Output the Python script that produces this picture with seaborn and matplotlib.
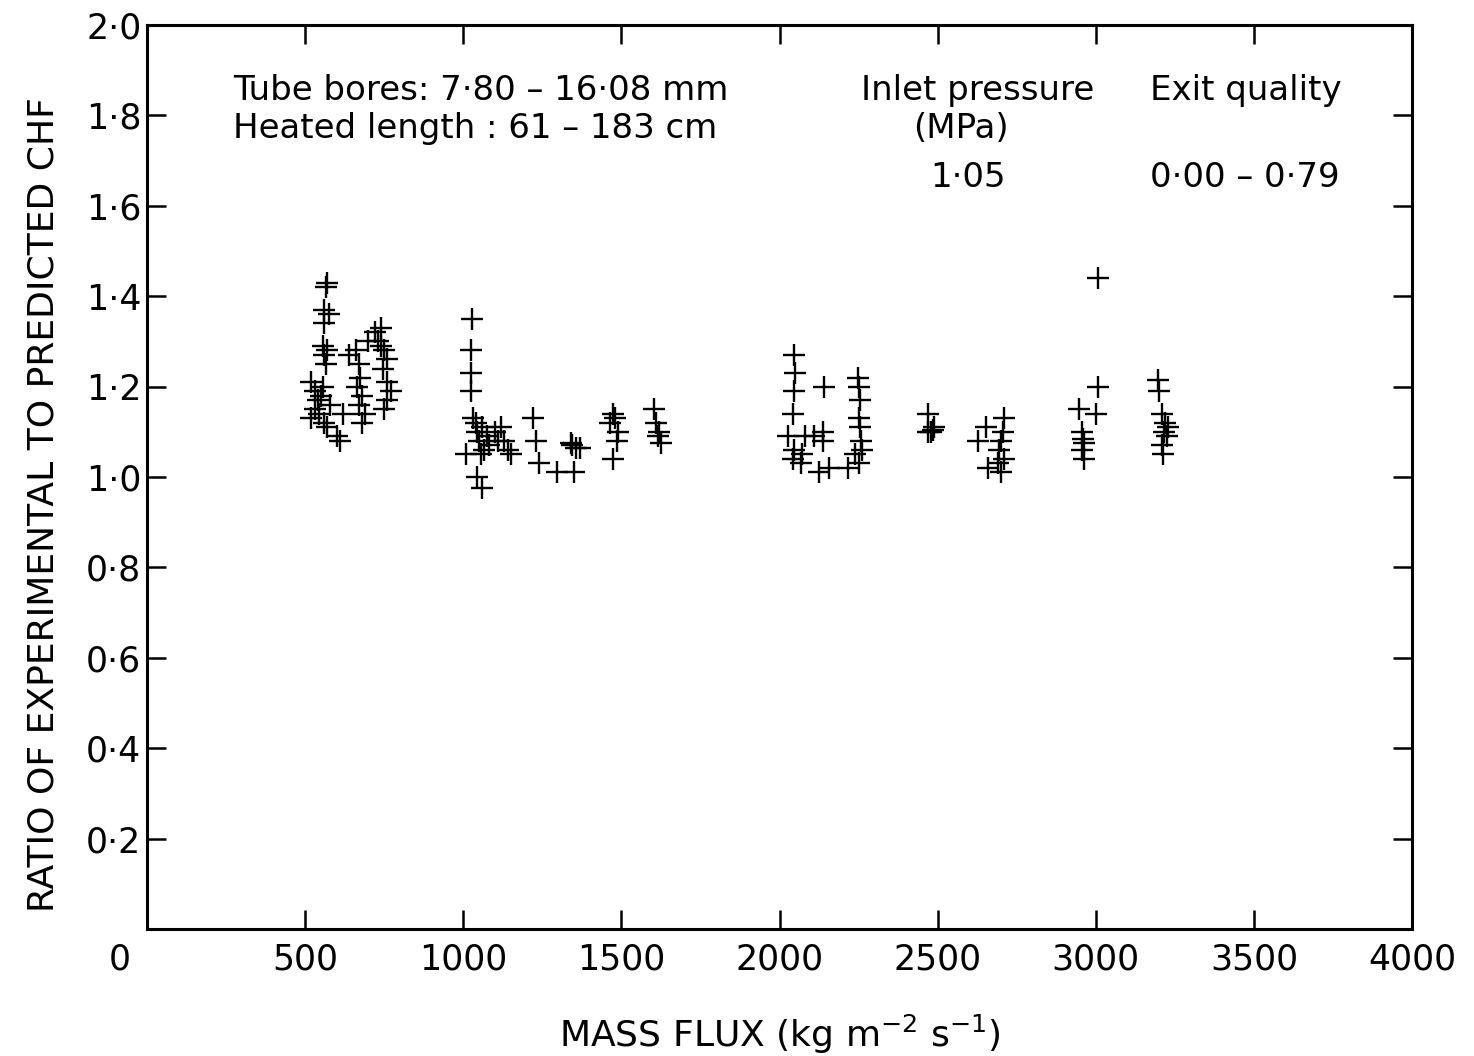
import matplotlib
matplotlib.use("Agg")
import matplotlib.pyplot as plt
import matplotlib.transforms as mtransforms
import seaborn as sns
import pandas as pd

# ---- data ----
mass_flux = [
    520, 530, 540, 530, 545, 520, 560, 570, 580, 550, 555, 565, 560, 555, 570, 560, 575, 560, 565, 570,
    600, 610, 620, 640, 660, 670, 675, 665, 680, 670, 690, 680, 700, 720, 740, 730, 750, 760, 745, 760,
    770, 760, 750, 740,
    1029, 1026, 1026, 1026, 1030, 1010, 1040, 1045, 1050, 1060, 1065, 1055, 1075, 1080, 1100, 1110, 1120,
    1130, 1140, 1150, 1045, 1060, 1222, 1230, 1238, 1298, 1349, 1345, 1355, 1370, 1340,
    1473, 1480, 1465, 1490, 1485, 1475, 1603, 1610, 1620, 1615, 1625,
    2046, 2050, 2046, 2043, 2141, 2027, 2046, 2043, 2068, 2109, 2137, 2137, 2125, 2156, 2080, 2070,
    2248, 2252, 2255, 2250, 2255, 2258, 2260, 2250, 2216, 2240,
    3008, 2470, 2479, 2490, 2470, 2485, 2628, 2653, 2711, 2707, 2700, 2695, 2711, 2660, 2701, 2690,
    3008, 3002, 2948, 2955, 2960, 2962, 2958, 2964,
    3198, 3201, 3208, 3220, 3215, 3225, 3210, 3212, 3230,
]
chf_ratio = [
    1.21, 1.19, 1.17, 1.15, 1.14, 1.13, 1.12, 1.11, 1.16, 1.18, 1.20, 1.25, 1.27, 1.29, 1.28, 1.34, 1.36, 1.37, 1.42, 1.43,
    1.09, 1.08, 1.14, 1.27, 1.28, 1.25, 1.22, 1.20, 1.18, 1.16, 1.14, 1.12, 1.30, 1.32, 1.33, 1.30, 1.28, 1.26, 1.24, 1.21,
    1.19, 1.17, 1.15, 1.29,
    1.35, 1.28, 1.23, 1.19, 1.13, 1.05, 1.12, 1.10, 1.08, 1.11, 1.06, 1.05, 1.09, 1.07, 1.10, 1.08, 1.11,
    1.08, 1.06, 1.05, 1.00, 0.975, 1.13, 1.08, 1.03, 1.01, 1.01, 1.07, 1.065, 1.065, 1.075,
    1.14, 1.13, 1.12, 1.10, 1.08, 1.04, 1.15, 1.12, 1.10, 1.09, 1.075,
    1.27, 1.23, 1.19, 1.14, 1.20, 1.09, 1.06, 1.04, 1.03, 1.09, 1.08, 1.10, 1.01, 1.02, 1.09, 1.05,
    1.22, 1.20, 1.17, 1.13, 1.11, 1.08, 1.06, 1.03, 1.02, 1.05,
    1.44, 1.14, 1.10, 1.11, 1.10, 1.105, 1.08, 1.11, 1.13, 1.10, 1.08, 1.06, 1.04, 1.02, 1.01, 1.03,
    1.20, 1.14, 1.15, 1.10, 1.085, 1.075, 1.06, 1.04,
    1.215, 1.19, 1.14, 1.12, 1.10, 1.09, 1.07, 1.05, 1.11,
]

x_ticks = [0, 500, 1000, 1500, 2000, 2500, 3000, 3500, 4000]
x_tick_labels = ["0", "500", "1000", "1500", "2000", "2500", "3000", "3500", "4000"]
y_ticks = [0.2, 0.4, 0.6, 0.8, 1.0, 1.2, 1.4, 1.6, 1.8, 2.0]
y_tick_labels = ["0·2", "0·4", "0·6", "0·8", "1·0", "1·2", "1·4", "1·6", "1·8", "2·0"]

df = pd.DataFrame({"mass_flux": mass_flux, "ratio": chf_ratio})

sns.set_theme(style="white")
plt.rcParams["font.family"] = ["DejaVu Sans"]
plt.rcParams["text.color"] = "black"
plt.rcParams["axes.labelcolor"] = "black"

fig = plt.figure(figsize=(14.74, 10.56), dpi=100)
ax = fig.add_axes([147 / 1474, 1 - 929 / 1056, (1412 - 147) / 1474, (929 - 25) / 1056])

sns.scatterplot(data=df, x="mass_flux", y="ratio", marker="+", s=256, color="black",
                linewidth=1.7, ax=ax, legend=False)

ax.set_xlim(0, 4000)
ax.set_ylim(0, 2.0)
ax.set_xticks(x_ticks)
ax.set_xticklabels(x_tick_labels)
ax.set_yticks(y_ticks)
ax.set_yticklabels(y_tick_labels)

for sp in ax.spines.values():
    sp.set_visible(True)
    sp.set_color("black")
    sp.set_linewidth(2.2)

ax.tick_params(axis="both", which="major", direction="in", length=14, width=1.8,
               colors="black", labelsize=25, top=True, right=True, bottom=True, left=True)
ax.tick_params(axis="x", pad=10)
ax.tick_params(axis="y", pad=4)

# shift the "0" x tick label to the left as in the reference
lbl0 = ax.get_xticklabels()[0]
lbl0.set_transform(lbl0.get_transform() + mtransforms.ScaledTranslation(-0.27, 0, fig.dpi_scale_trans))

ax.set_xlabel("MASS FLUX (kg m$^{-2}$ s$^{-1}$)", fontsize=26, labelpad=26)
ax.set_ylabel("RATIO OF EXPERIMENTAL TO PREDICTED CHF", fontsize=26)
ax.yaxis.set_label_coords(-0.068, 0.47)

fs = 24.5
ax.text(272, 1.856, "Tube bores: 7·80 – 16·08 mm", fontsize=fs, va="center", ha="left")
ax.text(272, 1.772, "Heated length : 61 – 183 cm", fontsize=fs, va="center", ha="left")
ax.text(2258, 1.856, "Inlet pressure", fontsize=fs, va="center", ha="left")
ax.text(2574, 1.772, "(MPa)", fontsize=fs, va="center", ha="center")
ax.text(2597, 1.662, "1·05", fontsize=fs, va="center", ha="center")
ax.text(3170, 1.856, "Exit quality", fontsize=fs, va="center", ha="left")
ax.text(3170, 1.662, "0·00 – 0·79", fontsize=fs, va="center", ha="left")

ax.grid(False)
fig.savefig("out.png", dpi=100, facecolor="white")
